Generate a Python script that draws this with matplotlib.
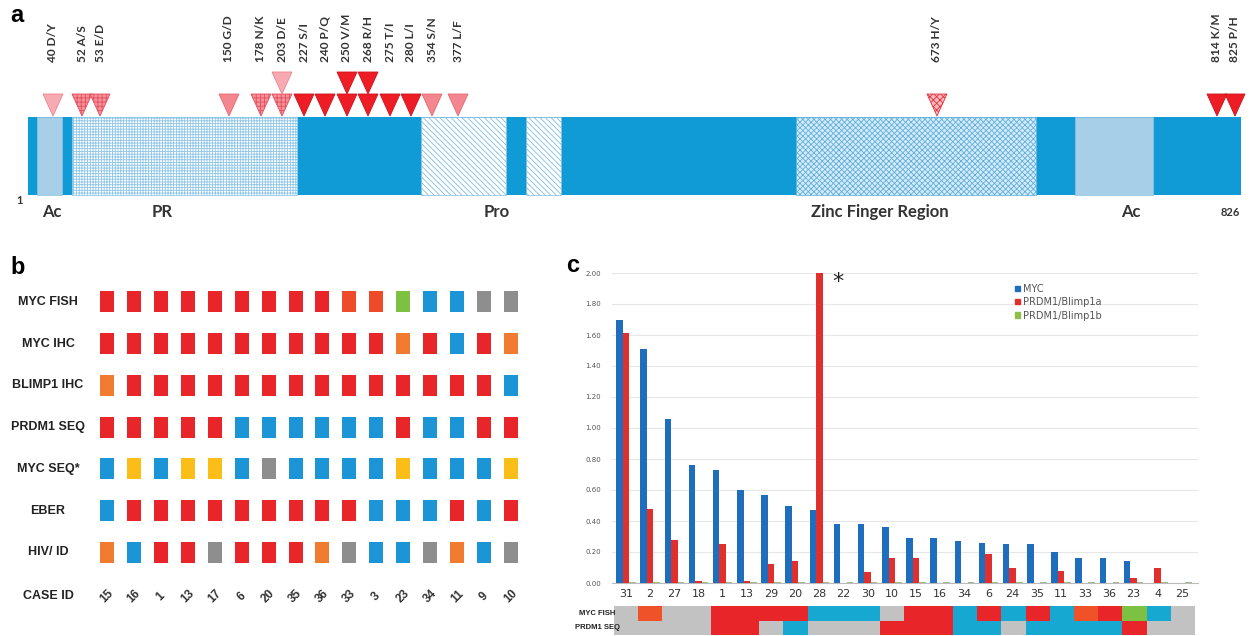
import matplotlib
matplotlib.use("Agg")
import matplotlib.pyplot as plt
from matplotlib.patches import Rectangle, Polygon, Patch
from matplotlib.colors import ListedColormap
import numpy as np

W, H = 1251, 636
plt.rcParams['hatch.linewidth'] = 0.6

# ---------------- panel a data (schematic units) ----------------
bar_start, bar_end = 28, 1241
dom_start = [37, 72, 421, 526, 796, 1075]
dom_end = [62, 297, 506, 561, 1036, 1153]
dom_style = ["ac", "grid", "diag", "diag", "zinc", "ac"]

region_labels = ["1", "Ac", "PR", "Pro", "Zinc Finger Region", "Ac", "826"]
region_x = [20, 52, 162, 497, 880, 1131, 1230]

mut_labels = ["40 D/Y", "52 A/S", "53 E/D", "150 G/D", "178 N/K", "203 D/E",
              "227 S/I", "240 P/Q", "250 V/M", "268 R/H", "275 T/I", "280 L/I",
              "354 S/N", "377 L/F", "673 H/Y", "814 K/M", "825 P/H"]
mut_x = [53, 82, 100, 229, 261, 282, 304, 325, 347, 368, 390, 411,
         432, 458, 937, 1217, 1235]
mut_style = ["light", "hatch", "hatch", "medium", "hatch", "hatch", "red", "red",
             "red", "red", "red", "red", "medium", "medium", "dot", "red", "red"]
mut_count = [1, 1, 1, 1, 1, 2, 1, 1, 2, 2, 1, 1, 1, 1, 1, 1, 1]

# ---------------- panel b data ----------------
b_rows = ["MYC FISH", "MYC IHC", "BLIMP1 IHC", "PRDM1 SEQ", "MYC SEQ*", "EBER", "HIV/ ID"]
b_cases = ["15", "16", "1", "13", "17", "6", "20", "35", "36", "33", "3", "23", "34", "11", "9", "10"]
b_myc_fish = "RRRRRRRRRrrGBBKK"
b_myc_ihc = "RRRRRRRRRRRORBRO"
b_blimp1_ihc = "ORRRRRRRRRRRRRRB"
b_prdm1_seq = "RRRRRBBBBBBRBBRR"
b_myc_seq = "BYBYYBKBBBBYBBBY"
b_eber = "BRRRRRRRRRBBBRBR"
b_hiv = "OBRRKRRROKBBKOBK"

# ---------------- panel c data ----------------
c_cases = ["31", "2", "27", "18", "1", "13", "29", "20", "28", "22", "30", "10",
           "15", "16", "34", "6", "24", "35", "11", "33", "36", "23", "4", "25"]
myc = [1.70, 1.51, 1.06, 0.76, 0.73, 0.60, 0.57, 0.50, 0.47, 0.38, 0.38, 0.36,
       0.29, 0.29, 0.27, 0.26, 0.25, 0.25, 0.20, 0.16, 0.16, 0.14, 0.0, 0.0]
blimp1a = [1.61, 0.48, 0.28, 0.01, 0.25, 0.01, 0.12, 0.14, 2.00, 0.0, 0.07, 0.16,
           0.16, 0.0, 0.0, 0.19, 0.10, 0.0, 0.08, 0.0, 0.0, 0.03, 0.10, 0.0]
blimp1b = [0.004] * 24
c_myc_fish = "KrKKRRRRBBBKRRBRBRBrRGBK"
c_prdm1_seq = "KKKKRRKBKKKRRRBBKBBBBRKK"

code_col = {"R": "#e8262a", "r": "#ee4b2b", "O": "#f27b32", "B": "#1b95d6",
            "Y": "#fbbd17", "K": "#8e8e8e", "G": "#7cc142"}
strip_col = {"R": "#e8262a", "r": "#ef5128", "B": "#17a8d2", "K": "#c2c2c2", "G": "#7cc142"}


def px_axes(x0, y0, x1, y1):
    return fig.add_axes([x0 / W, 1 - y1 / H, (x1 - x0) / W, (y1 - y0) / H])


fig = plt.figure(figsize=(W / 100, H / 100), dpi=100)

# ================= panel a =================
ax = px_axes(0, 0, W, 230)
ax.set_xlim(0, W)
ax.set_ylim(230, 0)
ax.axis("off")

bar_top, bar_bot = 117, 195
ax.add_patch(Rectangle((bar_start, bar_top), bar_end - bar_start, bar_bot - bar_top,
                       facecolor="#109bd7", edgecolor="none"))
for s, e, st in zip(dom_start, dom_end, dom_style):
    if st == "ac":
        kw = dict(facecolor="#a7cfe8", edgecolor="#8cc3e3", lw=0.5)
    elif st == "grid":
        kw = dict(facecolor="white", edgecolor="#8fc6e8", hatch="++++++", lw=0.5)
    elif st == "diag":
        kw = dict(facecolor="white", edgecolor="#7fbde3", hatch="\\\\\\\\\\\\", lw=0.5)
    else:
        kw = dict(facecolor="#d6ebf7", edgecolor="#5fb0de", hatch="xxxxxx", lw=0.5)
    ax.add_patch(Rectangle((s, bar_top), e - s, bar_bot - bar_top, **kw))

tri_style = {
    "light": dict(facecolor="#f7aab2", edgecolor="#e9848f", hatch=None),
    "hatch": dict(facecolor="#f3909a", edgecolor="#e4505e", hatch="++++"),
    "medium": dict(facecolor="#f3868e", edgecolor="#e46a74", hatch=None),
    "red": dict(facecolor="#ee1c25", edgecolor="#c8141c", hatch=None),
    "dot": dict(facecolor="#f8b8bd", edgecolor="#e2323c", hatch="xxxxx"),
}
hw, th = 10, 22
for x, st, n in zip(mut_x, mut_style, mut_count):
    for k in range(n):
        tip = bar_top - 1 - k * th
        top = tip - th
        sty = dict(tri_style[st])
        if st == "hatch" and k == 1:
            sty = dict(tri_style["light"])
        ax.add_patch(Polygon([(x - hw, top), (x + hw, top), (x, tip)], closed=True,
                             lw=0.6, **sty))
for x, lab in zip(mut_x, mut_labels):
    ax.text(x, 62, lab, rotation=90, ha="center", va="bottom", fontsize=8.6,
            fontweight="bold", color="#333333", family="Lato")

for x, lab in zip(region_x, region_labels):
    small = lab in ("1", "826")
    ax.text(x, 201 if lab == "1" else 212, lab, ha="center", va="center",
            fontsize=8 if small else 12, fontweight="bold", color="#333333", family="Lato")

fig.text(10 / W, 1 - 16 / H, "a", fontsize=17, fontweight="bold", va="center", family="Liberation Sans")

# ================= panel b =================
axb = px_axes(93.5, 281, 524.5, 615)
axb.set_xlim(-0.5, 15.5)
axb.set_ylim(7.5, -0.5)
axb.axis("off")
b_data = [b_myc_fish, b_myc_ihc, b_blimp1_ihc, b_prdm1_seq, b_myc_seq, b_eber, b_hiv]
lab_font = "Liberation Sans"
for r, (name, codes) in enumerate(zip(b_rows, b_data)):
    for c, code in enumerate(codes):
        axb.add_patch(Rectangle((c - 0.26, r - 0.25), 0.52, 0.5,
                                facecolor=code_col[code], edgecolor="none"))
    axb.text(-2.19, r, name, ha="center", va="center", fontsize=9,
             fontweight="bold", color="#222222", family=lab_font)
axb.text(-2.19, 7.05, "CASE ID", ha="center", va="center", fontsize=9,
         fontweight="bold", color="#222222", family=lab_font)
for c, lab in enumerate(b_cases):
    axb.text(c, 7.05, lab, rotation=45, ha="center", va="center", fontsize=8.5,
             fontweight="bold", color="#333333", family=lab_font)

fig.text(10 / W, 1 - 268 / H, "b", fontsize=17, fontweight="bold", va="center", family="Liberation Sans")

# ================= panel c =================
axc = px_axes(612, 273, 1198, 583)
axc.set_xlim(-0.579, 23.666)
axc.set_ylim(0, 2.0)
x = np.arange(len(c_cases))
bw = 0.27
axc.bar(x - bw, myc, bw, color="#1f6dbd", label="MYC", zorder=3)
axc.bar(x, blimp1a, bw, color="#e0302e", label="PRDM1/Blimp1a", zorder=3)
axc.bar(x + bw, blimp1b, bw, color="#9fb98a", label="PRDM1/Blimp1b", zorder=3)
axc.set_yticks(np.arange(0, 2.01, 0.2))
axc.set_yticklabels([f"{v:.2f}" for v in np.arange(0, 2.01, 0.2)], fontsize=5, color="#555555")
axc.set_xticks(x)
axc.set_xticklabels(c_cases, fontsize=8, color="#333333")
axc.tick_params(length=0, pad=4)
axc.tick_params(axis="y", pad=8)
axc.grid(axis="y", color="#e6e6e6", lw=0.8, zorder=0)
for sp in ["top", "right", "left"]:
    axc.spines[sp].set_visible(False)
axc.spines["bottom"].set_color("#bbbbbb")
axc.spines["bottom"].set_linewidth(0.8)
axc.text(8.75, 1.94, "*", fontsize=16, ha="center", va="center", color="#222222")

handles = [Patch(color="#1f6dbd"), Patch(color="#e0302e"), Patch(color="#8fbf4a")]
leg = fig.legend(handles, ["MYC", "PRDM1/Blimp1a", "PRDM1/Blimp1b"],
                 loc="upper left", bbox_to_anchor=(1006 / W, 1 - 275 / H),
                 frameon=False, fontsize=7, handlelength=0.5, handleheight=0.5,
                 labelspacing=0.35, handletextpad=0.4)
for t in leg.get_texts():
    t.set_color("#555555")

# strip below panel c
axs = px_axes(614, 606, 1195, 635)
codes_all = "RrBKG"
cmap = ListedColormap([strip_col[k] for k in codes_all])
grid = np.array([[codes_all.index(k) for k in c_myc_fish],
                 [codes_all.index(k) for k in c_prdm1_seq]])
axs.pcolormesh(np.arange(-0.5, 24, 1), [0, 1, 2], grid, cmap=cmap, vmin=-0.5, vmax=4.5)
axs.set_xlim(-0.5, 23.5)
axs.set_ylim(2, 0)
axs.axis("off")
for r, lab in enumerate(["MYC FISH", "PRDM1 SEQ"]):
    axs.text(-1.2, r + 0.5, lab, ha="center", va="center", fontsize=5.5,
             fontweight="bold", color="#222222", family=lab_font)

fig.text(566 / W, 1 - 265 / H, "c", fontsize=17, fontweight="bold", va="center", family="Liberation Sans")

fig.savefig("out.png", dpi=100)
